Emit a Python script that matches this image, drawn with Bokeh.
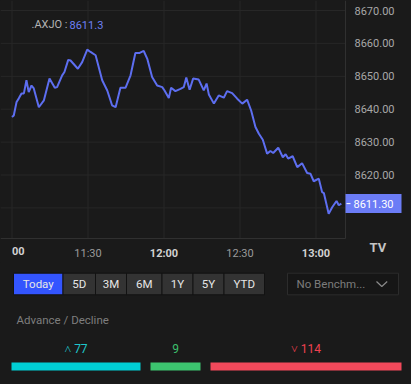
from bokeh.plotting import figure
from bokeh.models import Range1d
from bokeh.layouts import column
from bokeh.embed import file_html
from bokeh.resources import INLINE
from bokeh.core.properties import value

# ---------------- data ----------------
symbol = ".AXJO"
last_price = 8611.30
# minutes after 11:00
minutes = [0, 0.7, 1.8, 2.7, 3.75, 4.7, 5.7, 6.6, 7.7, 8.6, 10.6, 12.6, 14.8, 16.9, 17.8,
           19.8, 20.7, 22.2, 23.1, 26.0, 27.7, 29.7, 31.0, 33.0, 35.6, 37.6, 39.5, 40.9,
           42.8, 44.8, 46.8, 48.7, 50.4, 52.0, 53.4, 55.3, 57.3, 59.3, 60.2, 61.9, 62.8,
           64.5, 66.5, 67.8, 68.8, 70.1, 71.5, 73.7, 75.7, 76.8, 77.7, 79.7, 81.6, 83.6,
           84.9, 86.9, 88.9, 90.9, 92.8, 94.4, 96.1, 97.4, 99.0, 100.7, 102.0, 103.1,
           105.1, 106.9, 108.0, 109.0, 110.8, 112.6, 114.5, 116.5, 117.8, 119.1, 121.1,
           122.4, 123.1, 125.0, 126.4, 128.1, 129.0, 130.0]
prices = [8637.6, 8638.1, 8642.2, 8643.3, 8644.8, 8644.8, 8648.8, 8645.2, 8647.2, 8646.3,
          8640.6, 8642.7, 8649.3, 8646.5, 8646.7, 8650.3, 8651.3, 8655.0, 8654.8, 8652.3,
          8654.3, 8658.1, 8657.4, 8656.4, 8648.8, 8645.7, 8641.2, 8640.6, 8646.5, 8646.5,
          8650.3, 8657.1, 8657.1, 8657.7, 8655.3, 8649.8, 8647.2, 8646.7, 8645.7, 8643.4,
          8646.5, 8645.5, 8646.2, 8646.7, 8649.6, 8645.9, 8649.3, 8649.0, 8645.7, 8647.8,
          8644.5, 8641.7, 8644.2, 8643.5, 8645.5, 8644.9, 8643.2, 8641.7, 8642.9, 8639.6,
          8634.6, 8632.6, 8630.7, 8626.5, 8627.3, 8626.7, 8628.3, 8625.4, 8626.3, 8625.0,
          8625.7, 8622.4, 8623.6, 8620.6, 8620.4, 8618.1, 8618.9, 8614.8, 8614.5, 8608.2,
          8610.2, 8612.1, 8610.8, 8611.3]
y_ticks = [8610, 8620, 8630, 8640, 8650, 8660, 8670]
x_tick_minutes = [0, 30, 60, 90, 120]
x_tick_labels = ["00", "11:30", "12:00", "12:30", "13:00"]
x_tick_hour = [True, False, True, False, True]
range_buttons = ["Today", "5D", "3M", "6M", "1Y", "5Y", "YTD"]
benchmark_text = "No Benchm..."
breadth_title = "Advance / Decline"
advances = 77
unchanged = 9
declines = 114

# ---------------- style ----------------
BG = "#1a1a1a"
GRID = "#272727"
AXIS = "#303030"
LINE = "#5d6ef0"
FONT = "Roboto"

W, H1, H2 = 411, 262, 122
PXX = 30 / 76.0      # minutes per pixel
PXY = 1 / 3.29       # price units per pixel

# ranges chosen so the pane spans the whole top figure
x_start = -11.5 * PXX
x_end = x_start + W * PXX
y_end = 8670 + 10 * PXY
y_start = y_end - H1 * PXY
plot_x_end = x_start + 345 * PXX      # right price scale border
plot_y_bottom = y_end - 238 * PXY     # time scale border

p = figure(width=W, height=H1, x_range=Range1d(x_start, x_end),
           y_range=Range1d(y_start, y_end), x_axis_location=None, y_axis_location=None,
           output_backend="svg", toolbar_location=None, min_border=0,
           background_fill_color=BG, border_fill_color=BG, outline_line_color=None)
p.grid.visible = False

# grid
p.segment(x0=x_tick_minutes, x1=x_tick_minutes, y0=plot_y_bottom, y1=y_end,
          line_color=GRID, line_width=1)
p.segment(x0=x_start, x1=plot_x_end, y0=y_ticks, y1=y_ticks, line_color=GRID, line_width=1)
# scale borders
p.segment(x0=[plot_x_end, x_start], x1=[plot_x_end, plot_x_end],
          y0=[plot_y_bottom, plot_y_bottom], y1=[y_end, plot_y_bottom],
          line_color=AXIS, line_width=1)

# price line
p.line(minutes, prices, line_width=2, color=LINE)

# price scale labels
p.text(x=plot_x_end + 9 * PXX, y=y_ticks, text=[f"{v:.2f}" for v in y_ticks],
       text_align="left", text_baseline="middle", text_font=value(FONT),
       text_font_size="11px", text_color="#a8a8a8")

# time scale labels
for m, lab, hour in zip(x_tick_minutes, x_tick_labels, x_tick_hour):
    p.text(x=[m], y=[plot_y_bottom - 8 * PXY], text=[lab],
           text_align="left" if lab == x_tick_labels[0] else "center",
           text_baseline="top", text_font=value(FONT), text_font_size="11px",
           text_font_style="bold" if hour else "normal",
           text_color="#d2d2d2" if hour else "#9a9a9a")

# header
p.text(x=[x_start + 31 * PXX], y=[y_end - 24 * PXY], text=[symbol + " :"],
       text_baseline="middle", text_font=value(FONT), text_font_size="11px",
       text_color="#b4b4b4")
p.text(x=[x_start + 69 * PXX], y=[y_end - 24 * PXY], text=[f"{last_price:.1f}"],
       text_baseline="middle", text_font=value(FONT), text_font_size="11px",
       text_color="#6f80f5")

# last price tag
p.quad(left=[plot_x_end], right=[plot_x_end + 56 * PXX],
       top=[last_price + 9.5 * PXY], bottom=[last_price - 9.5 * PXY],
       fill_color="#6b7cf6", line_color=None)
p.segment(x0=[plot_x_end + 1 * PXX], x1=[plot_x_end + 5 * PXX],
          y0=[last_price], y1=[last_price], line_color="#ffffff", line_width=1)
p.text(x=[plot_x_end + 8 * PXX], y=[last_price], text=[f"{last_price:.2f}"],
       text_baseline="middle", text_font=value(FONT), text_font_size="11px",
       text_color="#ffffff")

# logo
p.text(x=[x_start + 369 * PXX], y=[y_end - 247 * PXY], text=["TV"],
       text_baseline="middle", text_font=value(FONT), text_font_size="13px",
       text_font_style="bold", text_color="#c4c4c4")

# ---------------- controls and breadth ----------------
q = figure(width=W, height=H2, x_range=Range1d(0, W), y_range=Range1d(H2, 0),
           x_axis_location=None, y_axis_location=None,
           output_backend="svg", toolbar_location=None, min_border=0,
           background_fill_color=BG, border_fill_color=BG, outline_line_color=None)
q.grid.visible = False

edges = [13, 62.5, 95, 126, 161.5, 192.5, 223.5, 264]
lefts = edges[:-1]
rights = edges[1:]
fills = ["#3355ff"] + ["#333333"] * (len(range_buttons) - 1)
q.quad(left=lefts, right=rights, top=10.7, bottom=32.3, fill_color=fills,
       line_color="#121212", line_width=1)
q.text(x=[(a + b) / 2 for a, b in zip(lefts, rights)], y=[21.8] * len(range_buttons),
       text=range_buttons, text_align="center", text_baseline="middle",
       text_font=value(FONT), text_font_size="11.5px", text_color="#e6e6e6")

# benchmark dropdown
q.quad(left=[287], right=[398], top=[10.7], bottom=[32.3], fill_color="#161616",
       line_color="#2c2c2c", line_width=1)
q.text(x=[296], y=[21.8], text=[benchmark_text], text_baseline="middle",
       text_font=value(FONT), text_font_size="11.5px", text_color="#7c7c7c")
q.line(x=[376, 381.3, 386.7], y=[19, 24, 19], line_color="#8a8a8a", line_width=1.2)

q.text(x=[16], y=[57], text=[breadth_title], text_baseline="middle",
       text_font=value(FONT), text_font_size="11.5px", text_color="#7e7e7e")

# breadth bars
bar_left, bar_total, gap, min_w = 11, 390, 10, 50
scale = (bar_total - 2 * gap - min_w) / (advances + declines)
w_adv = advances * scale
w_unc = max(unchanged * scale, min_w)
w_dec = declines * scale
b_left = [bar_left, bar_left + w_adv + gap, bar_left + w_adv + gap + w_unc + gap]
b_right = [b_left[0] + w_adv, b_left[1] + w_unc, b_left[2] + w_dec]
bar_colors = ["#00ced4", "#3cc46f", "#f2495b"]
q.quad(left=b_left, right=b_right, top=100, bottom=108, fill_color=bar_colors, line_color=None)
q.text(x=[(a + b) / 2 for a, b in zip(b_left, b_right)], y=[86] * 3,
       text=[f"\u02c4 {advances}", f"{unchanged}", f"\u02c5 {declines}"],
       text_align="center", text_baseline="middle", text_font=value(FONT),
       text_font_size="12px", text_color=["#1ec6cc", "#3cbf6c", "#ef4150"])

layout = column(p, q, spacing=0, styles={"background-color": BG})
html = file_html(layout, INLINE)
html = html.replace("<head>", "<head><style>html, body { background: %s; }</style>" % BG, 1)
open("out.html", "w").write(html)
